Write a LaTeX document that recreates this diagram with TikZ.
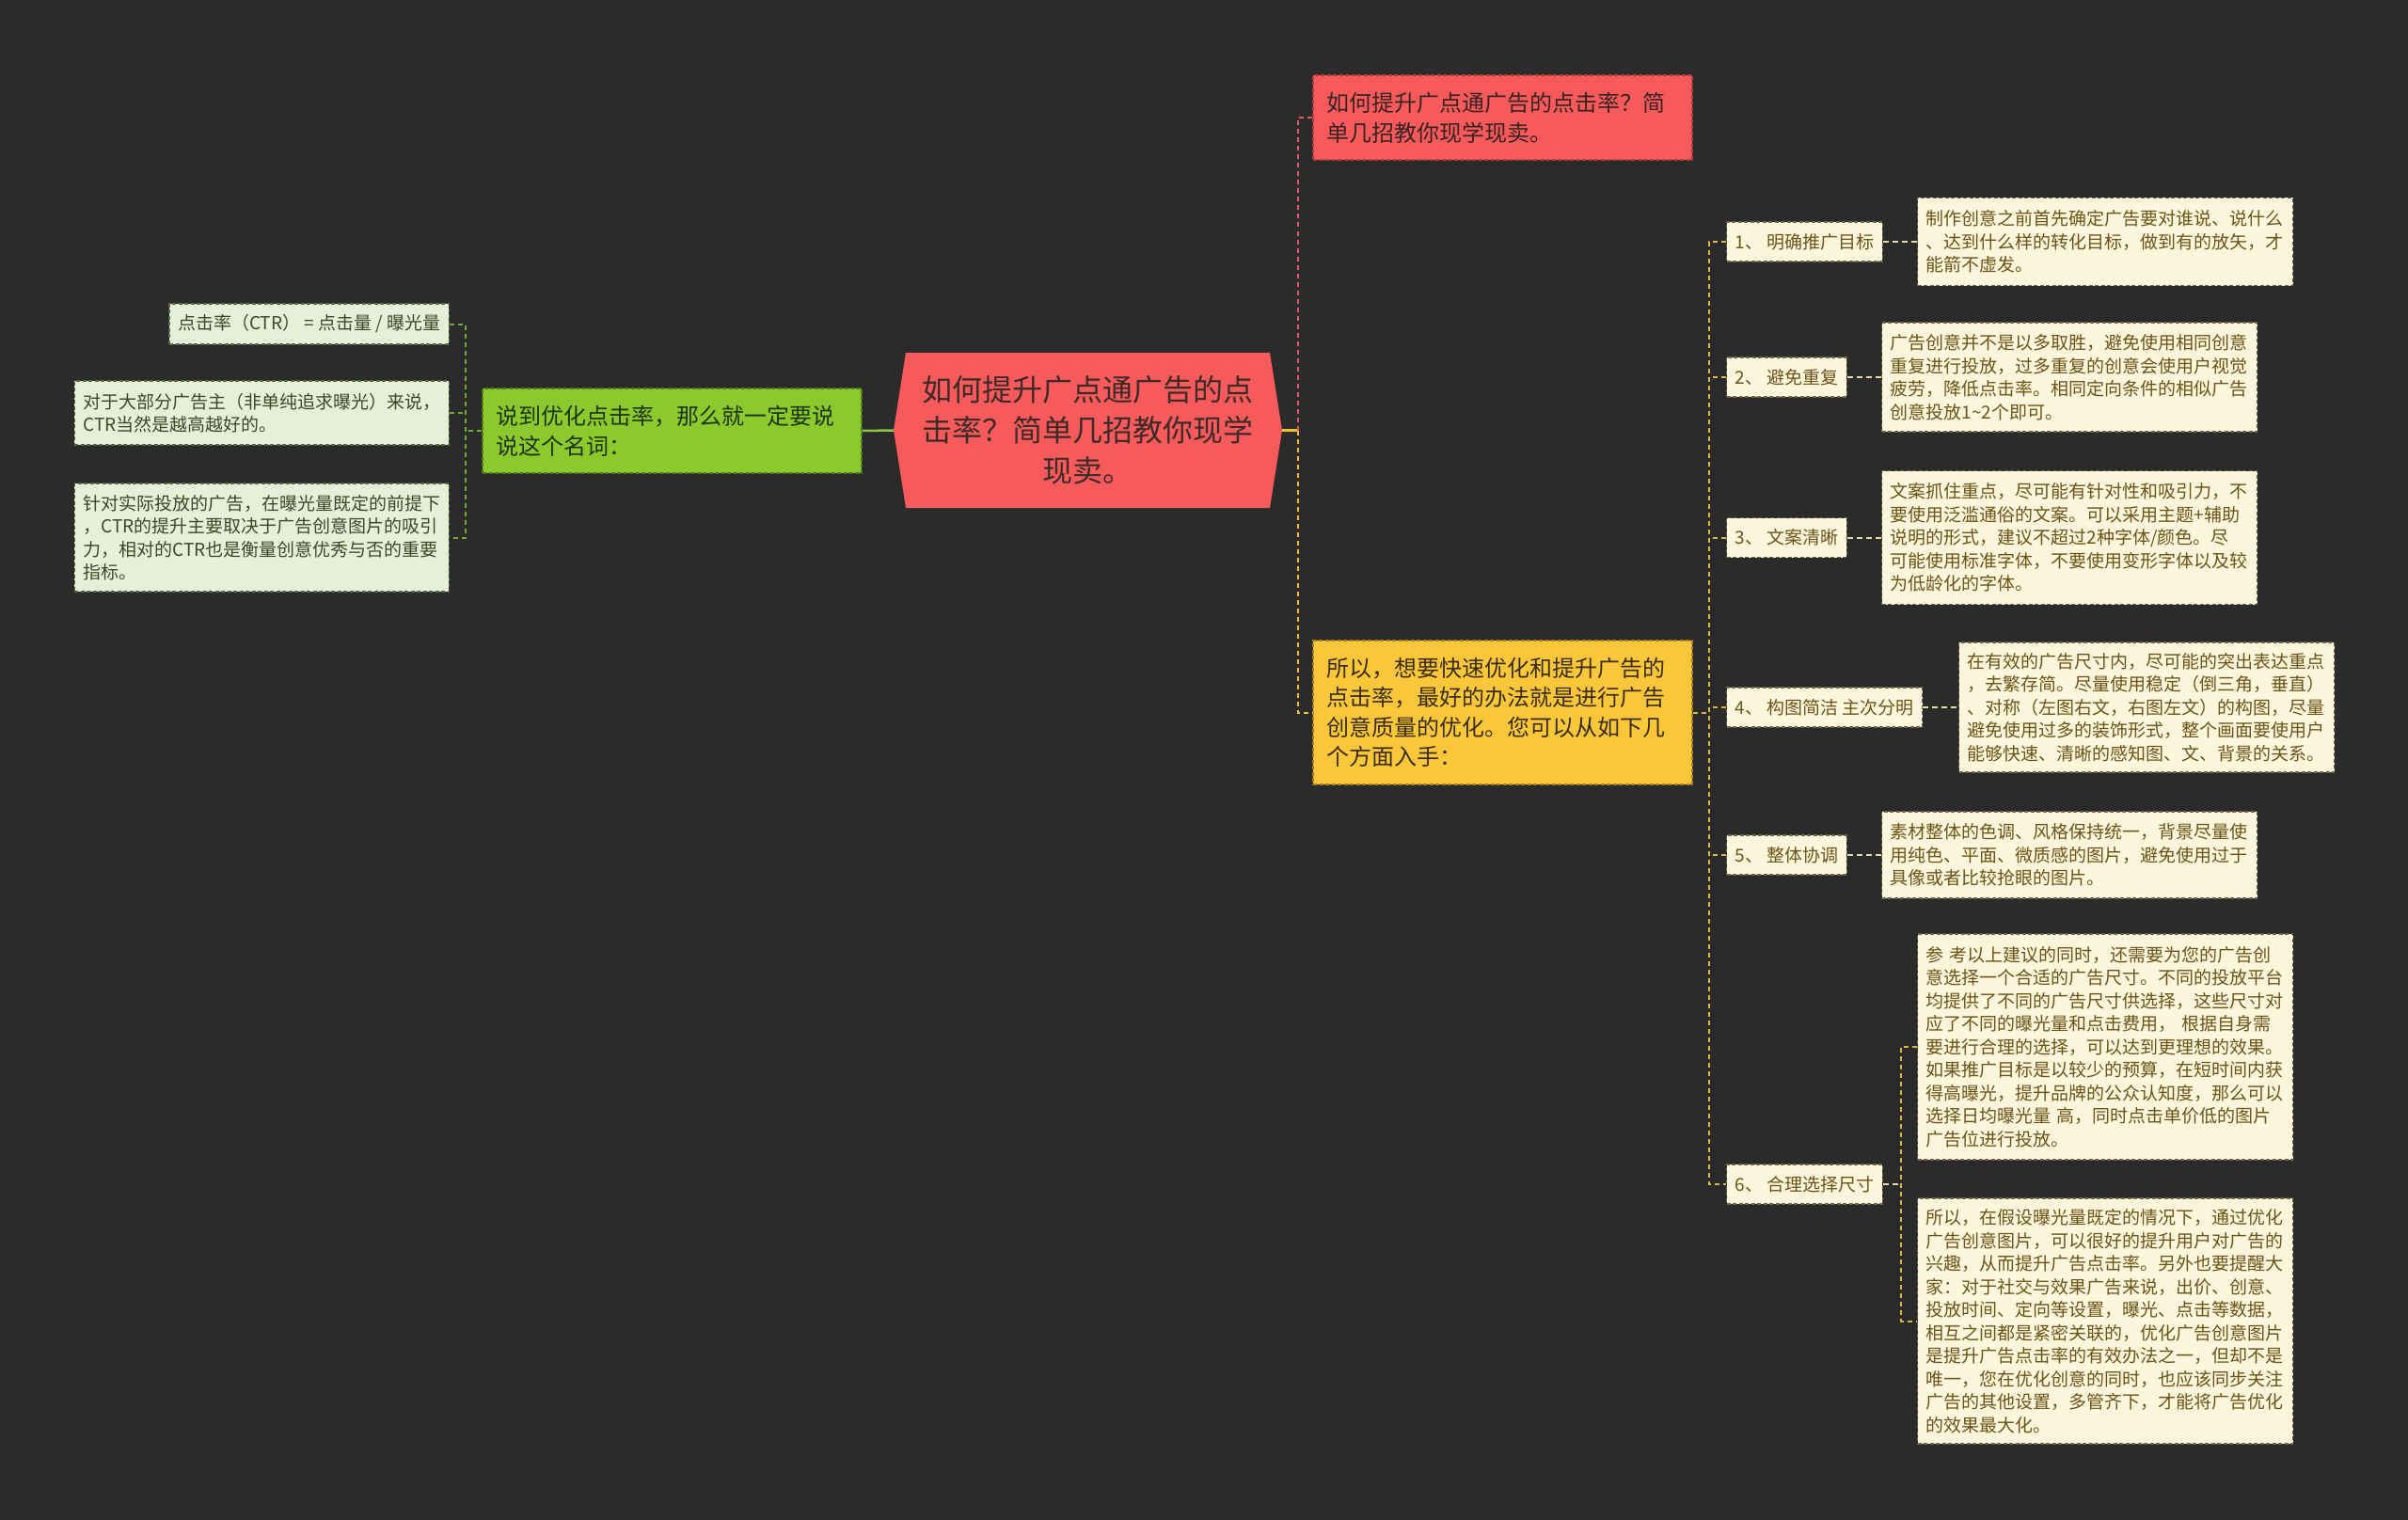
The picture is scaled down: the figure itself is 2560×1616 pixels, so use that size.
\documentclass[tikz,border=0pt]{standalone}
\usepackage{fontspec}
\setmainfont{Noto Sans CJK SC}
\usetikzlibrary{calc}
\definecolor{bg}{HTML}{2B2B2B}
\definecolor{rootfill}{HTML}{F65A5A}
\definecolor{roottext}{HTML}{3E2A28}
\definecolor{redfill}{HTML}{F65A5A}
\definecolor{redborder}{HTML}{B53C3C}
\definecolor{redtext}{HTML}{3A2222}
\definecolor{yelfill}{HTML}{FBC73A}
\definecolor{yelborder}{HTML}{A8801C}
\definecolor{yeltext}{HTML}{3A2E12}
\definecolor{grnfill}{HTML}{8CC92C}
\definecolor{grnborder}{HTML}{4E7A16}
\definecolor{grntext}{HTML}{1E3510}
\definecolor{lfill}{HTML}{E7EFD8}
\definecolor{lborder}{HTML}{5A6848}
\definecolor{ltext}{HTML}{3B4828}
\definecolor{rfill}{HTML}{FDF6DC}
\definecolor{rborder}{HTML}{6E6446}
\definecolor{rtext}{HTML}{6A5418}
\definecolor{gline}{HTML}{8CC63F}
\definecolor{yline}{HTML}{F2C32E}
\definecolor{rline}{HTML}{E05A5A}
\definecolor{ygold}{HTML}{D9B846}
\definecolor{ycream}{HTML}{E6DAAA}
\tikzset{
  dashbox/.style={rectangle, dash pattern=on 4pt off 2.5pt, line width=1.3pt, inner ysep=0pt, align=left},
  midbox/.style={dashbox, inner xsep=14pt, text width=375pt, minimum width=403pt, font=\fontsize{24}{32}\selectfont},
  lbox/.style={dashbox, draw=lborder, fill=lfill, text=ltext, inner xsep=9pt, font=\fontsize{19}{24.5}\selectfont},
  rbox/.style={dashbox, draw=rborder, fill=rfill, text=rtext, inner xsep=9pt, font=\fontsize{19}{24.5}\selectfont},
  numbox/.style={rbox, anchor=west, minimum height=42pt},
  descbox/.style={rbox, anchor=west, text width=381pt},
  gsolid/.style={draw=gline, line width=2.5pt},
  gdash/.style={draw=gline!85!black, line width=2pt, dash pattern=on 5pt off 4pt},
  ysolid/.style={draw=yline, line width=2.5pt},
  rdash/.style={draw=rline, line width=2pt, dash pattern=on 5pt off 4pt},
  ydash/.style={draw=yline, line width=2pt, dash pattern=on 5pt off 4pt},
  gold/.style={draw=ygold, line width=2pt, dash pattern=on 5pt off 4pt},
  cream/.style={draw=ycream, line width=2pt, dash pattern=on 6pt off 4pt}
}
\begin{document}
\begin{tikzpicture}[x=1pt,y=-1pt]
\useasboundingbox (0,0) rectangle (2560,1616);
\fill[bg] (0,0) rectangle (2560,1616);

% root shape
\fill[rootfill] (950,457.5) -- (963,375) -- (1350,375) -- (1363,457.5) -- (1350,540) -- (963,540) -- cycle;
\node[rectangle, inner sep=0pt, minimum width=413pt, minimum height=165pt, text width=380pt, align=center,
      text=roottext, font=\fontsize{32}{43}\selectfont] (root) at (1156.5,457.5)
  {如何提升广点通广告的点\\击率？简单几招教你现学\\现卖。};

% level 1
\node[midbox, draw=redborder, fill=redfill, text=redtext, minimum height=90pt] (red) at (1597.5,125)
  {如何提升广点通广告的点击率？简\\单几招教你现学现卖。};
\node[midbox, draw=yelborder, fill=yelfill, text=yeltext, minimum height=153pt,
      font=\fontsize{24}{31.5}\selectfont] (yel) at (1597.5,757.5)
  {所以，想要快速优化和提升广告的\\点击率，最好的办法就是进行广告\\创意质量的优化。您可以从如下几\\个方面入手：};
\node[midbox, draw=grnborder, fill=grnfill, text=grntext, minimum height=90pt] (green) at (714.5,458)
  {说到优化点击率，那么就一定要说\\说这个名词：};

% left leaves
\node[lbox, anchor=east, minimum height=43pt] (L1) at (478,344.5)
  {点击率（CTR） = 点击量 / 曝光量};
\node[lbox, anchor=east, minimum height=68pt, text width=380pt] (L2) at (478,439)
  {对于大部分广告主（非单纯追求曝光）来说，\\CTR当然是越高越好的。};
\node[lbox, anchor=east, minimum height=115pt, text width=380pt] (L3) at (478,571.5)
  {针对实际投放的广告，在曝光量既定的前提下\\，CTR的提升主要取决于广告创意图片的吸引\\力，相对的CTR也是衡量创意优秀与否的重要\\指标。};

% right number nodes
\node[numbox] (n1) at (1835,257) {1、 明确推广目标};
\node[numbox] (n2) at (1835,401) {2、 避免重复};
\node[numbox] (n3) at (1835,571.5) {3、 文案清晰};
\node[numbox] (n4) at (1835,752) {4、 构图简洁 主次分明};
\node[numbox] (n5) at (1835,909) {5、 整体协调};
\node[numbox] (n6) at (1835,1259) {6、 合理选择尺寸};

% right descriptions
\node[descbox, minimum height=93pt] (d1) at (2038,257)
  {制作创意之前首先确定广告要对谁说、说什么\\、达到什么样的转化目标，做到有的放矢，才\\能箭不虚发。};
\node[descbox, minimum height=116pt] (d2) at (2000,401)
  {广告创意并不是以多取胜，避免使用相同创意\\重复进行投放，过多重复的创意会使用户视觉\\疲劳，降低点击率。相同定向条件的相似广告\\创意投放1\textasciitilde 2个即可。};
\node[descbox, minimum height=142pt] (d3) at (2000,571.5)
  {文案抓住重点，尽可能有针对性和吸引力，不\\要使用泛滥通俗的文案。可以采用主题+辅助\\说明的形式，建议不超过2种字体/颜色。尽\\可能使用标准字体，不要使用变形字体以及较\\为低龄化的字体。};
\node[descbox, minimum height=138pt] (d4) at (2082,752)
  {在有效的广告尺寸内，尽可能的突出表达重点\\，去繁存简。尽量使用稳定（倒三角，垂直）\\、对称（左图右文，右图左文）的构图，尽量\\避免使用过多的装饰形式，整个画面要使用户\\能够快速、清晰的感知图、文、背景的关系。};
\node[descbox, minimum height=92pt] (d5) at (2000,909)
  {素材整体的色调、风格保持统一，背景尽量使\\用纯色、平面、微质感的图片，避免使用过于\\具像或者比较抢眼的图片。};
\node[descbox, minimum height=240pt] (d6a) at (2038,1113)
  {参 考以上建议的同时，还需要为您的广告创\\意选择一个合适的广告尺寸。不同的投放平台\\均提供了不同的广告尺寸供选择，这些尺寸对\\应了不同的曝光量和点击费用， 根据自身需\\要进行合理的选择，可以达到更理想的效果。\\如果推广目标是以较少的预算，在短时间内获\\得高曝光，提升品牌的公众认知度，那么可以\\选择日均曝光量 高，同时点击单价低的图片\\广告位进行投放。};
\node[descbox, minimum height=261pt] (d6b) at (2038,1404.5)
  {所以，在假设曝光量既定的情况下，通过优化\\广告创意图片，可以很好的提升用户对广告的\\兴趣，从而提升广告点击率。另外也要提醒大\\家：对于社交与效果广告来说，出价、创意、\\投放时间、定向等设置，曝光、点击等数据，\\相互之间都是紧密关联的，优化广告创意图片\\是提升广告点击率的有效办法之一，但却不是\\唯一，您在优化创意的同时，也应该同步关注\\广告的其他设置，多管齐下，才能将广告优化\\的效果最大化。};

% connectors left
\draw[gsolid] (green.east) -- (root.west);
\coordinate (lj) at (495,458);
\draw[gdash] (green.west) -- (lj);
\draw[gdash] (L1.east) -- (L1.east -| lj) -- (L3.east -| lj) -- (L3.east);
\draw[gdash] (L2.east) -- (L2.east -| lj);

% connectors right
\coordinate (rj) at (1380,457.5);
\draw[ysolid] (root.east) -- (rj);
\draw[rdash] (rj) |- (red.west);
\draw[ydash] (rj) |- (yel.west);
\coordinate (yj) at (1817,757.5);
\draw[gold] (yel.east) -- (yj);
\draw[gold] (n1.west) -- (n1.west -| yj) -- (n6.west -| yj) -- (n6.west);
\foreach \n in {n2,n3,n4,n5} \draw[gold] (\n.west) -- (\n.west -| yj);
\draw[cream] (n1.east) -- (n1.east -| d1.west);
\draw[cream] (n2.east) -- (n2.east -| d2.west);
\draw[cream] (n3.east) -- (n3.east -| d3.west);
\draw[cream] (n4.east) -- (n4.east -| d4.west);
\draw[cream] (n5.east) -- (n5.east -| d5.west);
\coordinate (sj) at (2021,1259);
\draw[cream] (n6.east) -- (sj);
\draw[gold] (d6a.west) -- (d6a.west -| sj) -- (d6b.west -| sj) -- (d6b.west);
\end{tikzpicture}
\end{document}
